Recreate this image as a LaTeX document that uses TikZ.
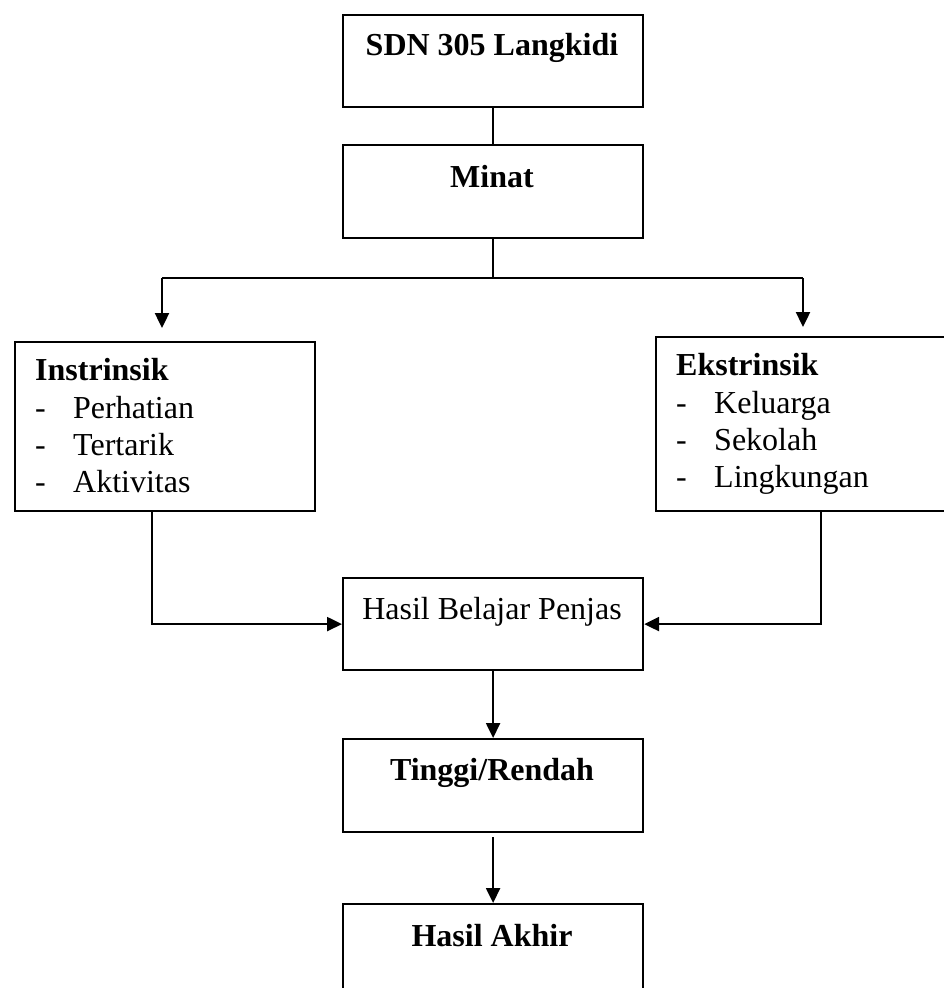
\documentclass[tikz,border=0pt]{standalone}
\usepackage{fontspec}
\setmainfont{Liberation Serif}
\usetikzlibrary{arrows.meta}
\begin{document}
\begin{tikzpicture}[x=1pt,y=-1pt,
  box/.style={draw, line width=2.2pt, rectangle, inner sep=0pt, anchor=north west},
  lbl/.style={font=\fontsize{32}{37}\selectfont, inner sep=0pt, anchor=base},
  blbl/.style={lbl, font=\fontsize{32}{37}\selectfont\bfseries},
  item/.style={font=\fontsize{32}{37}\selectfont, inner sep=0pt, anchor=base west},
  conn/.style={line width=2.2pt},
  arr/.style={line width=2.4pt, -{Triangle[length=15pt,width=14pt]}}]
\useasboundingbox (0,0) rectangle (944,988);
% boxes
\node[box, minimum width=300pt, minimum height=92pt] (sdn) at (342,14) {};
\node[box, minimum width=300pt, minimum height=93pt] (minat) at (342,144) {};
\node[box, minimum width=300pt, minimum height=169pt] (intr) at (14,341) {};
\node[box, minimum width=305pt, minimum height=174pt] (ekst) at (655,336) {};
\node[box, minimum width=300pt, minimum height=92pt] (hasil) at (342,577) {};
\node[box, minimum width=300pt, minimum height=93pt] (tinggi) at (342,738) {};
\node[box, minimum width=300pt, minimum height=110pt] (akhir) at (342,903) {};
% texts
\node[blbl] (tsdn) at (492,55) {SDN 305 Langkidi};
\node[blbl] (tminat) at (492,187) {Minat};
\node[item, font=\fontsize{32}{37}\selectfont\bfseries] (tintr) at (35,380) {Instrinsik};
\node[item] (d1) at (35,418) {-};
\node[item] (d2) at (35,455) {-};
\node[item] (d3) at (35,492) {-};
\node[item] (i1) at (73,418) {Perhatian};
\node[item] (i2) at (73,455) {Tertarik};
\node[item] (i3) at (73,492) {Aktivitas};
\node[item, font=\fontsize{32}{37}\selectfont\bfseries] (tekst) at (676,375) {Ekstrinsik};
\node[item] (e1) at (676,413) {-};
\node[item] (e2) at (676,450) {-};
\node[item] (e3) at (676,487) {-};
\node[item] (k1) at (714,413) {Keluarga};
\node[item] (k2) at (714,450) {Sekolah};
\node[item] (k3) at (714,487) {Lingkungan};
\node[lbl] (thasil) at (492,619) {Hasil Belajar Penjas};
\node[blbl] (ttinggi) at (492,780) {Tinggi/Rendah};
\node[blbl] (takhir) at (492,946) {Hasil Akhir};
% junctions
\coordinate (jc) at (492,278);
\coordinate (jl) at (162,278);
\coordinate (jr) at (803,278);
\coordinate (al) at (162,328);
\coordinate (ar) at (803,327);
\coordinate (il) at (152,510);
\coordinate (er) at (821,510);
% connectors
\draw[conn] (sdn.south) -- (minat.north);
\draw[conn] (minat.south) -- (minat.south |- jc);
\draw[conn] (jl) -- (jr);
\draw[arr] (jl) -- (al);
\draw[arr] (jr) -- (ar);
\draw[arr] (il) |- (hasil.west);
\draw[arr] (er) |- (hasil.east);
\draw[arr] (hasil.south) -- (tinggi.north);
\draw[arr] ([yshift=-4pt]tinggi.south) -- (akhir.north);
\end{tikzpicture}
\end{document}
